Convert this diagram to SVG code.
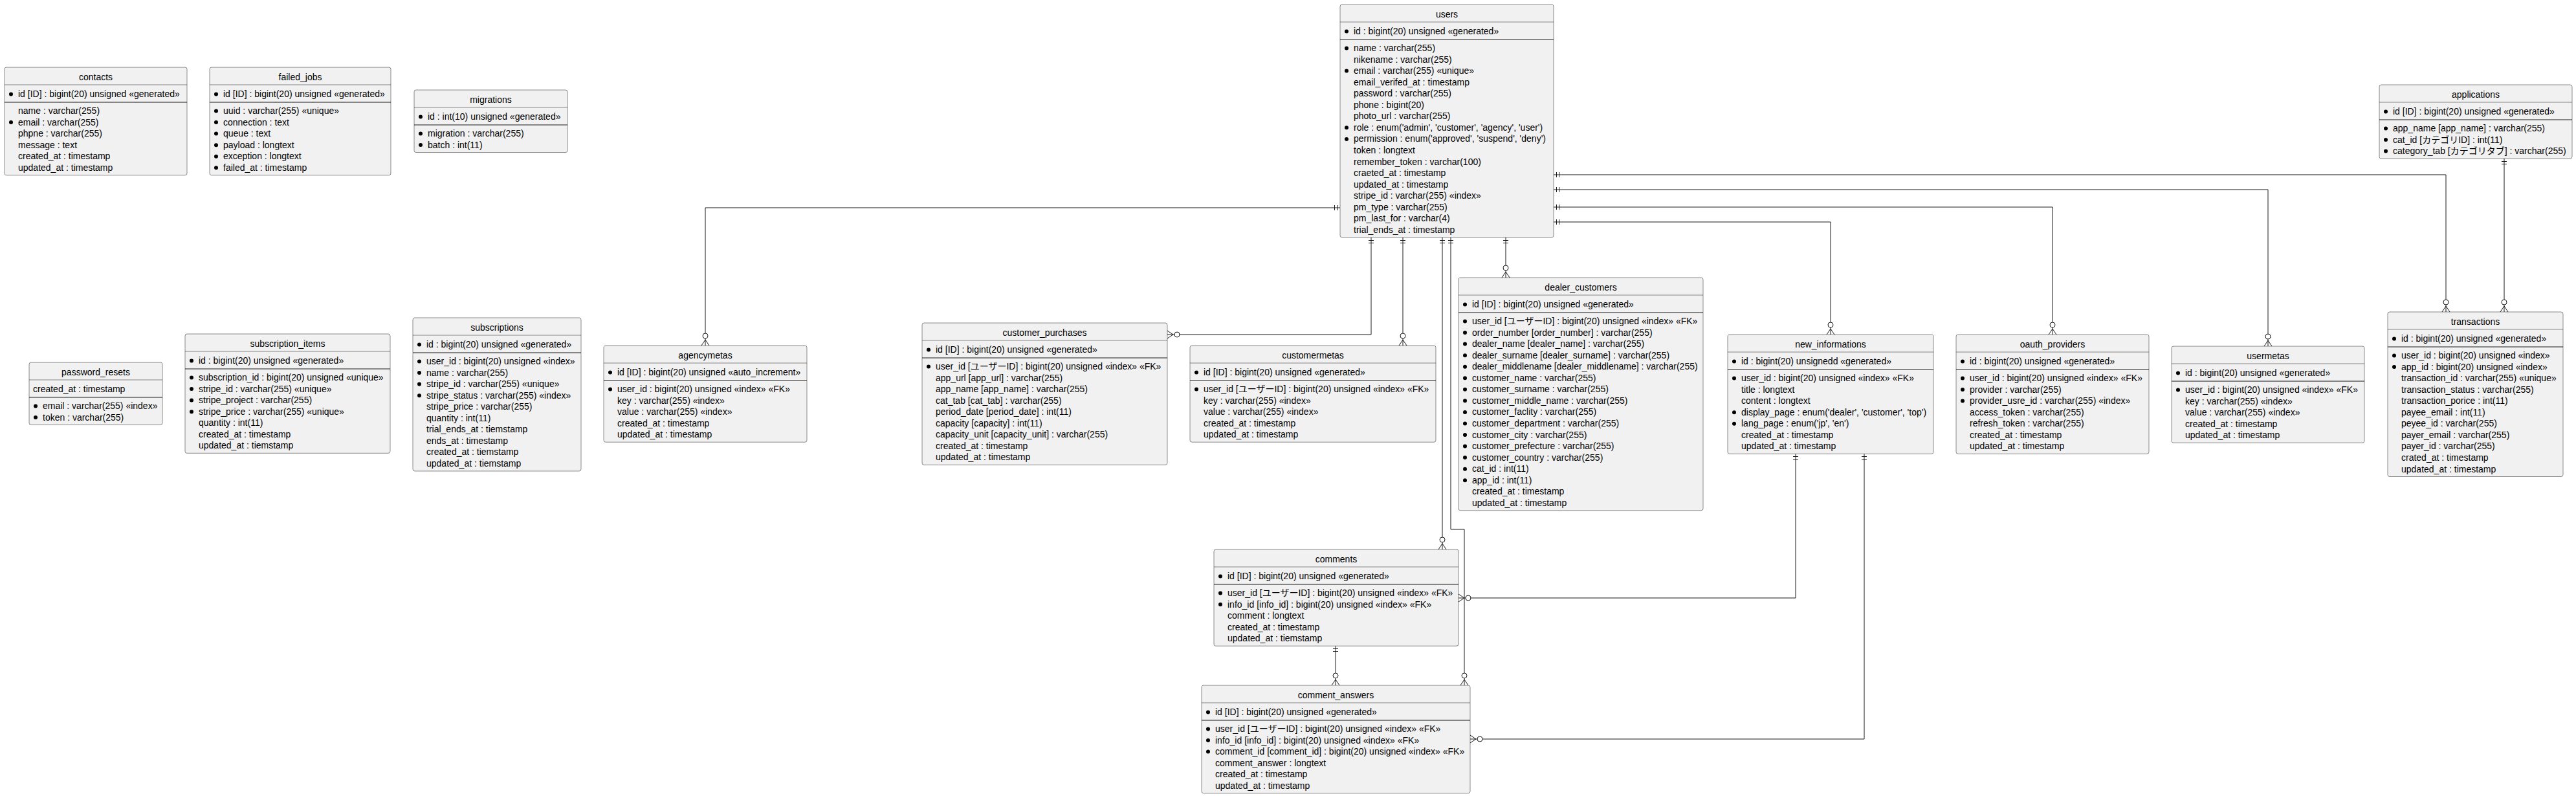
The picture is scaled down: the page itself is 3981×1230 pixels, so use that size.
<svg xmlns="http://www.w3.org/2000/svg" width="3981" height="1230" viewBox="0 0 3981 1230">
<style>
text{font-family:'Liberation Sans','Noto Sans CJK JP',sans-serif;font-size:14px;fill:#000}
.h{text-anchor:middle}
.box{fill:#F1F1F1;stroke:#181818;stroke-width:0.5}
.hl{stroke:#181818;stroke-width:0.5}
.sp{stroke:#181818;stroke-width:1}
.b{fill:#000}
.c path{fill:none;stroke:#181818;stroke-width:1}
</style>
<defs>
<g id="oneD" fill="none" stroke="#181818" stroke-width="1"><path d="M-4,4.5H4M-4,8.5H4"/></g>
<g id="oneR" fill="none" stroke="#181818" stroke-width="1"><path d="M4.5,-4V4M8.5,-4V4"/></g>
<g id="oneL" fill="none" stroke="#181818" stroke-width="1"><path d="M-4.5,-4V4M-8.5,-4V4"/></g>
<g id="manyT" stroke="#181818" stroke-width="1"><path fill="none" d="M-6,0L0,-9L6,0"/><circle cx="0" cy="-15" r="4" fill="#fff"/></g>
<g id="manyR" stroke="#181818" stroke-width="1"><path fill="none" d="M0,-6L9,0L0,6"/><circle cx="15" cy="0" r="4" fill="#fff"/></g>
</defs>
<rect width="3981" height="1230" fill="#fff"/>

<g id="connectors" class="c">
<path d="M2071,321H1090V534"/>
<path d="M2119,367V517H1804"/>
<path d="M2168,367V534"/>
<path d="M2229,367V849"/>
<path d="M2242,367V818H2263V1059"/>
<path d="M2327,367V429"/>
<path d="M2401,343H2829V517"/>
<path d="M2401,320H3172V517"/>
<path d="M2401,293H3505V535"/>
<path d="M2401,270H3780V482"/>
<path d="M3870,245V482"/>
<path d="M2064,998V1059"/>
<path d="M2775,701V924H2254"/>
<path d="M2881,701V1142H2272"/>
<use href="#oneL" x="2071" y="321"/><use href="#manyT" x="1090" y="534"/>
<use href="#oneD" x="2119" y="367"/><use href="#manyR" x="1804" y="517"/>
<use href="#oneD" x="2168" y="367"/><use href="#manyT" x="2168" y="534"/>
<use href="#oneD" x="2229" y="367"/><use href="#manyT" x="2229" y="849"/>
<use href="#oneD" x="2242" y="367"/><use href="#manyT" x="2263" y="1059"/>
<use href="#oneD" x="2327" y="367"/><use href="#manyT" x="2327" y="429"/>
<use href="#oneR" x="2401" y="343"/><use href="#manyT" x="2829" y="517"/>
<use href="#oneR" x="2401" y="320"/><use href="#manyT" x="3172" y="517"/>
<use href="#oneR" x="2401" y="293"/><use href="#manyT" x="3505" y="535"/>
<use href="#oneR" x="2401" y="270"/><use href="#manyT" x="3780" y="482"/>
<use href="#oneD" x="3870" y="245"/><use href="#manyT" x="3870" y="482"/>
<use href="#oneD" x="2064" y="998"/><use href="#manyT" x="2064" y="1059"/>
<use href="#oneD" x="2775" y="701"/><use href="#manyR" x="2254" y="924"/>
<use href="#oneD" x="2881" y="701"/><use href="#manyR" x="2272" y="1142"/>
</g>

<g id="contacts">
<rect class="box" x="7" y="104" width="282" height="166.75" rx="3"/>
<line class="hl" x1="7" y1="131" x2="289" y2="131"/>
<line class="sp" x1="7" y1="158" x2="289" y2="158"/>
<text class="h" x="148" y="124">contacts</text>
<circle class="b" cx="17" cy="145.5" r="3"/><text x="28" y="150">id [ID] : bigint(20) unsigned «generated»</text>
<text x="28" y="176">name : varchar(255)</text>
<circle class="b" cx="17" cy="189.05" r="3"/><text x="28" y="193.55">email : varchar(255)</text>
<text x="28" y="211.1">phpne : varchar(255)</text>
<text x="28" y="228.65">message : text</text>
<text x="28" y="246.2">created_at : timestamp</text>
<text x="28" y="263.75">updated_at : timestamp</text>
</g>

<g id="failed_jobs">
<rect class="box" x="324" y="104" width="280" height="166.75" rx="3"/>
<line class="hl" x1="324" y1="131" x2="604" y2="131"/>
<line class="sp" x1="324" y1="158" x2="604" y2="158"/>
<text class="h" x="464" y="124">failed_jobs</text>
<circle class="b" cx="334" cy="145.5" r="3"/><text x="345" y="150">id [ID] : bigint(20) unsigned «generated»</text>
<circle class="b" cx="334" cy="171.5" r="3"/><text x="345" y="176">uuid : varchar(255) «unique»</text>
<circle class="b" cx="334" cy="189.05" r="3"/><text x="345" y="193.55">connection : text</text>
<circle class="b" cx="334" cy="206.6" r="3"/><text x="345" y="211.1">queue : text</text>
<circle class="b" cx="334" cy="224.15" r="3"/><text x="345" y="228.65">payload : longtext</text>
<circle class="b" cx="334" cy="241.7" r="3"/><text x="345" y="246.2">exception : longtext</text>
<circle class="b" cx="334" cy="259.25" r="3"/><text x="345" y="263.75">failed_at : timestamp</text>
</g>

<g id="migrations">
<rect class="box" x="640" y="139" width="237" height="96.55" rx="3"/>
<line class="hl" x1="640" y1="166" x2="877" y2="166"/>
<line class="sp" x1="640" y1="193" x2="877" y2="193"/>
<text class="h" x="758.5" y="159">migrations</text>
<circle class="b" cx="650" cy="180.5" r="3"/><text x="661" y="185">id : int(10) unsigned «generated»</text>
<circle class="b" cx="650" cy="206.5" r="3"/><text x="661" y="211">migration : varchar(255)</text>
<circle class="b" cx="650" cy="224.05" r="3"/><text x="661" y="228.55">batch : int(11)</text>
</g>

<g id="users">
<rect class="box" x="2071" y="7" width="330" height="359.8" rx="3"/>
<line class="hl" x1="2071" y1="34" x2="2401" y2="34"/>
<line class="sp" x1="2071" y1="61" x2="2401" y2="61"/>
<text class="h" x="2236" y="27">users</text>
<circle class="b" cx="2081" cy="48.5" r="3"/><text x="2092" y="53">id : bigint(20) unsigned «generated»</text>
<circle class="b" cx="2081" cy="74.5" r="3"/><text x="2092" y="79">name : varchar(255)</text>
<text x="2092" y="96.55">nikename : varchar(255)</text>
<circle class="b" cx="2081" cy="109.6" r="3"/><text x="2092" y="114.1">email : varchar(255) «unique»</text>
<text x="2092" y="131.65">email_verifed_at : timestamp</text>
<text x="2092" y="149.2">password : varchar(255)</text>
<text x="2092" y="166.75">phone : bigint(20)</text>
<text x="2092" y="184.3">photo_url : varchar(255)</text>
<circle class="b" cx="2081" cy="197.35" r="3"/><text x="2092" y="201.85">role : enum('admin', 'customer', 'agency', 'user')</text>
<circle class="b" cx="2081" cy="214.9" r="3"/><text x="2092" y="219.4">permission : enum('approved', 'suspend', 'deny')</text>
<text x="2092" y="236.95">token : longtext</text>
<text x="2092" y="254.5">remember_token : varchar(100)</text>
<text x="2092" y="272.05">craeted_at : timestamp</text>
<text x="2092" y="289.6">updated_at : timestamp</text>
<text x="2092" y="307.15">stripe_id : varchar(255) «index»</text>
<text x="2092" y="324.7">pm_type : varchar(255)</text>
<text x="2092" y="342.25">pm_last_for : varchar(4)</text>
<text x="2092" y="359.8">trial_ends_at : timestamp</text>
</g>

<g id="applications">
<rect class="box" x="3677" y="131" width="298" height="114.1" rx="3"/>
<line class="hl" x1="3677" y1="158" x2="3975" y2="158"/>
<line class="sp" x1="3677" y1="185" x2="3975" y2="185"/>
<text class="h" x="3826" y="151">applications</text>
<circle class="b" cx="3687" cy="172.5" r="3"/><text x="3698" y="177">id [ID] : bigint(20) unsigned «generated»</text>
<circle class="b" cx="3687" cy="198.5" r="3"/><text x="3698" y="203">app_name [app_name] : varchar(255)</text>
<circle class="b" cx="3687" cy="216.05" r="3"/><text x="3698" y="220.55">cat_id [カテゴリID] : int(11)</text>
<circle class="b" cx="3687" cy="233.6" r="3"/><text x="3698" y="238.1">category_tab [カテゴリタブ] : varchar(255)</text>
</g>

<g id="password_resets">
<rect class="box" x="45" y="560" width="206" height="96.55" rx="3"/>
<line class="hl" x1="45" y1="587" x2="251" y2="587"/>
<line class="sp" x1="45" y1="614" x2="251" y2="614"/>
<text class="h" x="148" y="580">password_resets</text>
<text x="51" y="606">created_at : timestamp</text>
<circle class="b" cx="55" cy="627.5" r="3"/><text x="66" y="632">email : varchar(255) «index»</text>
<circle class="b" cx="55" cy="645.05" r="3"/><text x="66" y="649.55">token : varchar(255)</text>
</g>

<g id="subscription_items">
<rect class="box" x="286" y="516" width="317" height="184.3" rx="3"/>
<line class="hl" x1="286" y1="543" x2="603" y2="543"/>
<line class="sp" x1="286" y1="570" x2="603" y2="570"/>
<text class="h" x="444.5" y="536">subscription_items</text>
<circle class="b" cx="296" cy="557.5" r="3"/><text x="307" y="562">id : bigint(20) unsigned «generated»</text>
<circle class="b" cx="296" cy="583.5" r="3"/><text x="307" y="588">subscription_id : bigint(20) unsigned «unique»</text>
<circle class="b" cx="296" cy="601.05" r="3"/><text x="307" y="605.55">stripe_id : varchar(255) «unique»</text>
<circle class="b" cx="296" cy="618.6" r="3"/><text x="307" y="623.1">stripe_project : varchar(255)</text>
<circle class="b" cx="296" cy="636.15" r="3"/><text x="307" y="640.65">stripe_price : varchar(255) «unique»</text>
<text x="307" y="658.2">quantity : int(11)</text>
<text x="307" y="675.75">created_at : timestamp</text>
<text x="307" y="693.3">updated_at : tiemstamp</text>
</g>

<g id="subscriptions">
<rect class="box" x="638" y="491" width="260" height="236.95" rx="3"/>
<line class="hl" x1="638" y1="518" x2="898" y2="518"/>
<line class="sp" x1="638" y1="545" x2="898" y2="545"/>
<text class="h" x="768" y="511">subscriptions</text>
<circle class="b" cx="648" cy="532.5" r="3"/><text x="659" y="537">id : bigint(20) unsigned «generated»</text>
<circle class="b" cx="648" cy="558.5" r="3"/><text x="659" y="563">user_id : bigint(20) unsigned «index»</text>
<circle class="b" cx="648" cy="576.05" r="3"/><text x="659" y="580.55">name : varchar(255)</text>
<circle class="b" cx="648" cy="593.6" r="3"/><text x="659" y="598.1">stripe_id : varchar(255) «unique»</text>
<circle class="b" cx="648" cy="611.15" r="3"/><text x="659" y="615.65">stripe_status : varchar(255) «index»</text>
<text x="659" y="633.2">stripe_price : varchar(255)</text>
<text x="659" y="650.75">quantity : int(11)</text>
<text x="659" y="668.3">trial_ends_at : tiemstamp</text>
<text x="659" y="685.85">ends_at : timestamp</text>
<text x="659" y="703.4">created_at : tiemstamp</text>
<text x="659" y="720.95">updated_at : tiemstamp</text>
</g>

<g id="agencymetas">
<rect class="box" x="933" y="534" width="314" height="149.2" rx="3"/>
<line class="hl" x1="933" y1="561" x2="1247" y2="561"/>
<line class="sp" x1="933" y1="588" x2="1247" y2="588"/>
<text class="h" x="1090" y="554">agencymetas</text>
<circle class="b" cx="943" cy="575.5" r="3"/><text x="954" y="580">id [ID] : bigint(20) unsigned «auto_increment»</text>
<circle class="b" cx="943" cy="601.5" r="3"/><text x="954" y="606">user_id : bigint(20) unsigned «index» «FK»</text>
<text x="954" y="623.55">key : varchar(255) «index»</text>
<text x="954" y="641.1">value : varchar(255) «index»</text>
<text x="954" y="658.65">created_at : timestamp</text>
<text x="954" y="676.2">updated_at : timestamp</text>
</g>

<g id="customer_purchases">
<rect class="box" x="1425" y="499" width="379" height="219.4" rx="3"/>
<line class="hl" x1="1425" y1="526" x2="1804" y2="526"/>
<line class="sp" x1="1425" y1="553" x2="1804" y2="553"/>
<text class="h" x="1614.5" y="519">customer_purchases</text>
<circle class="b" cx="1435" cy="540.5" r="3"/><text x="1446" y="545">id [ID] : bigint(20) unsigned «generated»</text>
<circle class="b" cx="1435" cy="566.5" r="3"/><text x="1446" y="571">user_id [ユーザーID] : bigint(20) unsigned «index» «FK»</text>
<text x="1446" y="588.55">app_url [app_url] : varchar(255)</text>
<text x="1446" y="606.1">app_name [app_name] : varchar(255)</text>
<text x="1446" y="623.65">cat_tab [cat_tab] : varchar(255)</text>
<text x="1446" y="641.2">period_date [period_date] : int(11)</text>
<text x="1446" y="658.75">capacity [capacity] : int(11)</text>
<text x="1446" y="676.3">capacity_unit [capacity_unit] : varchar(255)</text>
<text x="1446" y="693.85">created_at : timestamp</text>
<text x="1446" y="711.4">updated_at : timestamp</text>
</g>

<g id="customermetas">
<rect class="box" x="1839" y="534" width="380" height="149.2" rx="3"/>
<line class="hl" x1="1839" y1="561" x2="2219" y2="561"/>
<line class="sp" x1="1839" y1="588" x2="2219" y2="588"/>
<text class="h" x="2029" y="554">customermetas</text>
<circle class="b" cx="1849" cy="575.5" r="3"/><text x="1860" y="580">id [ID] : bigint(20) unsigned «generated»</text>
<circle class="b" cx="1849" cy="601.5" r="3"/><text x="1860" y="606">user_id [ユーザーID] : bigint(20) unsigned «index» «FK»</text>
<text x="1860" y="623.55">key : varchar(255) «index»</text>
<text x="1860" y="641.1">value : varchar(255) «index»</text>
<text x="1860" y="658.65">created_at : timestamp</text>
<text x="1860" y="676.2">updated_at : timestamp</text>
</g>

<g id="dealer_customers">
<rect class="box" x="2254" y="429" width="378" height="359.8" rx="3"/>
<line class="hl" x1="2254" y1="456" x2="2632" y2="456"/>
<line class="sp" x1="2254" y1="483" x2="2632" y2="483"/>
<text class="h" x="2443" y="449">dealer_customers</text>
<circle class="b" cx="2264" cy="470.5" r="3"/><text x="2275" y="475">id [ID] : bigint(20) unsigned «generated»</text>
<circle class="b" cx="2264" cy="496.5" r="3"/><text x="2275" y="501">user_id [ユーザーID] : bigint(20) unsigned «index» «FK»</text>
<circle class="b" cx="2264" cy="514.05" r="3"/><text x="2275" y="518.55">order_number [order_number] : varchar(255)</text>
<circle class="b" cx="2264" cy="531.6" r="3"/><text x="2275" y="536.1">dealer_name [dealer_name] : varchar(255)</text>
<circle class="b" cx="2264" cy="549.15" r="3"/><text x="2275" y="553.65">dealer_surname [dealer_surname] : varchar(255)</text>
<circle class="b" cx="2264" cy="566.7" r="3"/><text x="2275" y="571.2">dealer_middlename [dealer_middlename] : varchar(255)</text>
<circle class="b" cx="2264" cy="584.25" r="3"/><text x="2275" y="588.75">customer_name : varchar(255)</text>
<circle class="b" cx="2264" cy="601.8" r="3"/><text x="2275" y="606.3">customer_surname : varchar(255)</text>
<circle class="b" cx="2264" cy="619.35" r="3"/><text x="2275" y="623.85">customer_middle_name : varchar(255)</text>
<circle class="b" cx="2264" cy="636.9" r="3"/><text x="2275" y="641.4">customer_faclity : varchar(255)</text>
<circle class="b" cx="2264" cy="654.45" r="3"/><text x="2275" y="658.95">customer_department : varchar(255)</text>
<circle class="b" cx="2264" cy="672" r="3"/><text x="2275" y="676.5">customer_city : varchar(255)</text>
<circle class="b" cx="2264" cy="689.55" r="3"/><text x="2275" y="694.05">customer_prefecture : varchar(255)</text>
<circle class="b" cx="2264" cy="707.1" r="3"/><text x="2275" y="711.6">customer_country : varchar(255)</text>
<circle class="b" cx="2264" cy="724.65" r="3"/><text x="2275" y="729.15">cat_id : int(11)</text>
<circle class="b" cx="2264" cy="742.2" r="3"/><text x="2275" y="746.7">app_id : int(11)</text>
<text x="2275" y="764.25">created_at : timestamp</text>
<text x="2275" y="781.8">updated_at : timestamp</text>
</g>

<g id="new_informations">
<rect class="box" x="2670" y="517" width="318" height="184.3" rx="3"/>
<line class="hl" x1="2670" y1="544" x2="2988" y2="544"/>
<line class="sp" x1="2670" y1="571" x2="2988" y2="571"/>
<text class="h" x="2829" y="537">new_informations</text>
<circle class="b" cx="2680" cy="558.5" r="3"/><text x="2691" y="563">id : bigint(20) unsignedd «generated»</text>
<circle class="b" cx="2680" cy="584.5" r="3"/><text x="2691" y="589">user_id : bigint(20) unsigned «index» «FK»</text>
<text x="2691" y="606.55">title : longtext</text>
<text x="2691" y="624.1">content : longtext</text>
<circle class="b" cx="2680" cy="637.15" r="3"/><text x="2691" y="641.65">display_page : enum('dealer', 'customer', 'top')</text>
<circle class="b" cx="2680" cy="654.7" r="3"/><text x="2691" y="659.2">lang_page : enum('jp', 'en')</text>
<text x="2691" y="676.75">created_at : timestamp</text>
<text x="2691" y="694.3">updated_at : timestamp</text>
</g>

<g id="oauth_providers">
<rect class="box" x="3023" y="517" width="298" height="184.3" rx="3"/>
<line class="hl" x1="3023" y1="544" x2="3321" y2="544"/>
<line class="sp" x1="3023" y1="571" x2="3321" y2="571"/>
<text class="h" x="3172" y="537">oauth_providers</text>
<circle class="b" cx="3033" cy="558.5" r="3"/><text x="3044" y="563">id : bigint(20) unsigned «generated»</text>
<circle class="b" cx="3033" cy="584.5" r="3"/><text x="3044" y="589">user_id : bigint(20) unsigned «index» «FK»</text>
<circle class="b" cx="3033" cy="602.05" r="3"/><text x="3044" y="606.55">provider : varchar(255)</text>
<circle class="b" cx="3033" cy="619.6" r="3"/><text x="3044" y="624.1">provider_usre_id : varchar(255) «index»</text>
<text x="3044" y="641.65">access_token : varchar(255)</text>
<text x="3044" y="659.2">refresh_token : varchar(255)</text>
<text x="3044" y="676.75">created_at : timestamp</text>
<text x="3044" y="694.3">updated_at : timestamp</text>
</g>

<g id="usermetas">
<rect class="box" x="3356" y="535" width="298" height="149.2" rx="3"/>
<line class="hl" x1="3356" y1="562" x2="3654" y2="562"/>
<line class="sp" x1="3356" y1="589" x2="3654" y2="589"/>
<text class="h" x="3505" y="555">usermetas</text>
<circle class="b" cx="3366" cy="576.5" r="3"/><text x="3377" y="581">id : bigint(20) unsigned «generated»</text>
<circle class="b" cx="3366" cy="602.5" r="3"/><text x="3377" y="607">user_id : bigint(20) unsigned «index» «FK»</text>
<text x="3377" y="624.55">key : varchar(255) «index»</text>
<text x="3377" y="642.1">value : varchar(255) «index»</text>
<text x="3377" y="659.65">created_at : timestamp</text>
<text x="3377" y="677.2">updated_at : timestamp</text>
</g>

<g id="transactions">
<rect class="box" x="3690" y="482" width="271" height="254.5" rx="3"/>
<line class="hl" x1="3690" y1="509" x2="3961" y2="509"/>
<line class="sp" x1="3690" y1="536" x2="3961" y2="536"/>
<text class="h" x="3825.5" y="502">transactions</text>
<circle class="b" cx="3700" cy="523.5" r="3"/><text x="3711" y="528">id : bigint(20) unsigned «generated»</text>
<circle class="b" cx="3700" cy="549.5" r="3"/><text x="3711" y="554">user_id : bigint(20) unsigned «index»</text>
<circle class="b" cx="3700" cy="567.05" r="3"/><text x="3711" y="571.55">app_id : bigint(20) unsigned «index»</text>
<text x="3711" y="589.1">transaction_id : varchar(255) «unique»</text>
<text x="3711" y="606.65">transaction_status : varchar(255)</text>
<text x="3711" y="624.2">transaction_porice : int(11)</text>
<text x="3711" y="641.75">payee_email : int(11)</text>
<text x="3711" y="659.3">peyee_id : varchar(255)</text>
<text x="3711" y="676.85">payer_email : varchar(255)</text>
<text x="3711" y="694.4">payer_id : varchar(255)</text>
<text x="3711" y="711.95">crated_at : timestamp</text>
<text x="3711" y="729.5">updated_at : timestamp</text>
</g>

<g id="comments">
<rect class="box" x="1876" y="849" width="378" height="149.2" rx="3"/>
<line class="hl" x1="1876" y1="876" x2="2254" y2="876"/>
<line class="sp" x1="1876" y1="903" x2="2254" y2="903"/>
<text class="h" x="2065" y="869">comments</text>
<circle class="b" cx="1886" cy="890.5" r="3"/><text x="1897" y="895">id [ID] : bigint(20) unsigned «generated»</text>
<circle class="b" cx="1886" cy="916.5" r="3"/><text x="1897" y="921">user_id [ユーザーID] : bigint(20) unsigned «index» «FK»</text>
<circle class="b" cx="1886" cy="934.05" r="3"/><text x="1897" y="938.55">info_id [info_id] : bigint(20) unsigned «index» «FK»</text>
<text x="1897" y="956.1">comment : longtext</text>
<text x="1897" y="973.65">created_at : timestamp</text>
<text x="1897" y="991.2">updated_at : tiemstamp</text>
</g>

<g id="comment_answers">
<rect class="box" x="1857" y="1059" width="415" height="166.75" rx="3"/>
<line class="hl" x1="1857" y1="1086" x2="2272" y2="1086"/>
<line class="sp" x1="1857" y1="1113" x2="2272" y2="1113"/>
<text class="h" x="2064.5" y="1079">comment_answers</text>
<circle class="b" cx="1867" cy="1100.5" r="3"/><text x="1878" y="1105">id [ID] : bigint(20) unsigned «generated»</text>
<circle class="b" cx="1867" cy="1126.5" r="3"/><text x="1878" y="1131">user_id [ユーザーID] : bigint(20) unsigned «index» «FK»</text>
<circle class="b" cx="1867" cy="1144.05" r="3"/><text x="1878" y="1148.55">info_id [info_id] : bigint(20) unsigned «index» «FK»</text>
<circle class="b" cx="1867" cy="1161.6" r="3"/><text x="1878" y="1166.1">comment_id [comment_id] : bigint(20) unsigned «index» «FK»</text>
<text x="1878" y="1183.65">comment_answer : longtext</text>
<text x="1878" y="1201.2">created_at : timestamp</text>
<text x="1878" y="1218.75">updated_at : timestamp</text>
</g>
</svg>
